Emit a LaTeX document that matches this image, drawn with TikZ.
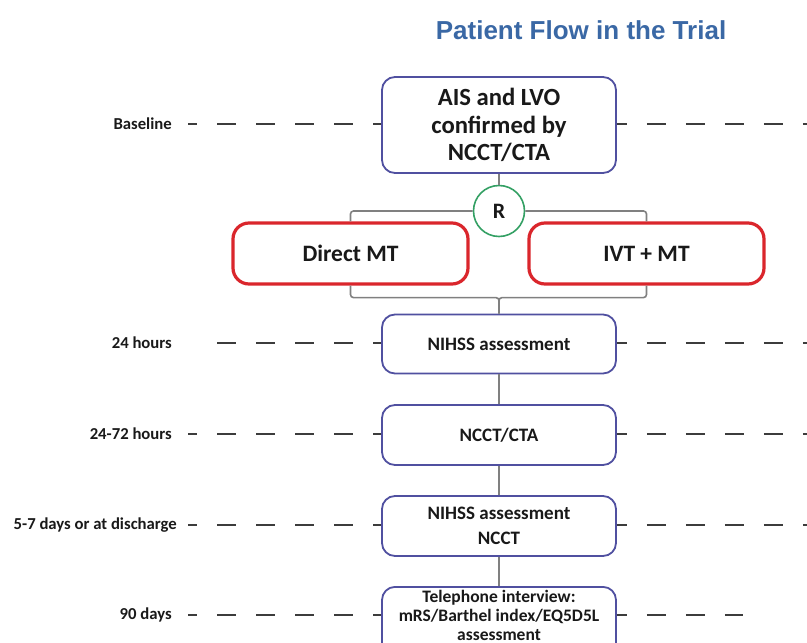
\documentclass[tikz,border=0pt]{standalone}
\usepackage{fontspec}
\setmainfont{Carlito}
\newfontfamily\titlefont{Liberation Sans}
\definecolor{boxblue}{RGB}{80,80,160}
\definecolor{armred}{RGB}{218,38,44}
\definecolor{randgreen}{RGB}{52,160,100}
\definecolor{linkgray}{RGB}{128,128,128}
\definecolor{dashgray}{RGB}{60,60,60}
\definecolor{titleblue}{RGB}{58,104,165}
\definecolor{ink}{RGB}{25,25,25}
\begin{document}
\begin{tikzpicture}[x=1pt,y=-1pt,
  bluebox/.style={draw=boxblue, line width=1.8pt, rounded corners=13pt, fill=white,
    minimum width=234pt, align=center, inner sep=0pt, text=ink, font=\bfseries},
  redbox/.style={draw=armred, line width=3.2pt, rounded corners=16pt, fill=white,
    minimum width=235pt, minimum height=61pt, inner sep=0pt, text=ink,
    font=\bfseries\fontsize{23.5}{28}\selectfont},
  randnode/.style={circle, draw=randgreen, line width=1.6pt, fill=white,
    minimum size=51pt, inner sep=0pt, text=ink, font=\bfseries\fontsize{22}{24}\selectfont},
  link/.style={draw=linkgray, line width=1.6pt},
  timeline/.style={draw=dashgray, line width=2.4pt, dash pattern=on 19pt off 20pt},
  timelabel/.style={anchor=east, inner sep=0pt, text=ink, font=\bfseries\fontsize{16.7}{19}\selectfont}
]
\useasboundingbox (0,0) rectangle (807,643);

% title
\node[text=titleblue, font=\titlefont\bfseries\fontsize{26}{30}\selectfont] (title) at (581,30) {Patient Flow in the Trial};

% trial steps
\node[bluebox, minimum height=96pt, font=\bfseries\fontsize{24.7}{27.5}\selectfont] (base) at (499,125)
  {AIS and LVO\\confirmed by\\NCCT/CTA};
\node[randnode] (rand) at (499,211) {R};
\node[redbox] (direct) at (350.5,253.5) {Direct MT};
\node[redbox] (ivt) at (646.5,253.5) {IVT + MT};
\node[bluebox, minimum height=59pt, font=\bfseries\fontsize{19}{23}\selectfont] (nih) at (499,344) {NIHSS assessment};
\node[bluebox, minimum height=60pt, font=\bfseries\fontsize{19}{23}\selectfont] (cta) at (499,435) {NCCT/CTA};
\node[bluebox, minimum height=60pt, font=\bfseries\fontsize{19}{25}\selectfont] (dis) at (499,526) {NIHSS assessment\\NCCT};
\node[bluebox, minimum height=76pt, anchor=north] (tel) at (499,586) {};
\node[align=center, inner sep=0pt, text=ink, font=\bfseries\fontsize{17.5}{19}\selectfont] (teltext)
  at (499,615) {Telephone interview:\\mRS/Barthel index/EQ5D5L\\assessment};

% connectors
\draw[link] (base) -- (rand);
\draw[link, rounded corners=3pt] (rand) -| (direct.north);
\draw[link, rounded corners=3pt] (rand) -| (ivt.north);
\draw[link, rounded corners=3pt] (direct.south) -- ++(0,12) -| (nih.north);
\draw[link, rounded corners=3pt] (ivt.south) -- ++(0,12) -| (nih.north);
\draw[link] (nih) -- (cta);
\draw[link] (cta) -- (dis);
\draw[link] (dis) -- (tel);

% time points
\node[timelabel] (l0) at (172,124) {Baseline};
\node[timelabel] (l1) at (172,343) {24 hours};
\node[timelabel] (l2) at (172,434) {24-72 hours};
\node[timelabel] (l3) at (177,525) {5-7 days or at discharge};
\node[timelabel] (l4) at (172,615) {90 days};

\coordinate (s0) at (188,124);
\coordinate (e0) at (807,124);
\coordinate (s1) at (217,343);
\coordinate (e1) at (807,343);
\coordinate (s2) at (188,434);
\coordinate (e2) at (807,434);
\coordinate (s3) at (188,525);
\coordinate (e3) at (807,525);
\coordinate (s4) at (188,615);
\coordinate (e4) at (743,615);

\draw[timeline, dash phase=10pt] (s0) -- (s0 -| base.west);
\draw[timeline, dash phase=9pt] (e0 -| base.east) -- (e0);
\draw[timeline] (s1) -- (s1 -| nih.west);
\draw[timeline, dash phase=9pt] (e1 -| nih.east) -- (e1);
\draw[timeline, dash phase=10pt] (s2) -- (s2 -| cta.west);
\draw[timeline, dash phase=9pt] (e2 -| cta.east) -- (e2);
\draw[timeline, dash phase=10pt] (s3) -- (s3 -| dis.west);
\draw[timeline, dash phase=9pt] (e3 -| dis.east) -- (e3);
\draw[timeline, dash phase=10pt] (s4) -- (s4 -| tel.west);
\draw[timeline, dash phase=9pt] (e4 -| tel.east) -- (e4);
\end{tikzpicture}
\end{document}
